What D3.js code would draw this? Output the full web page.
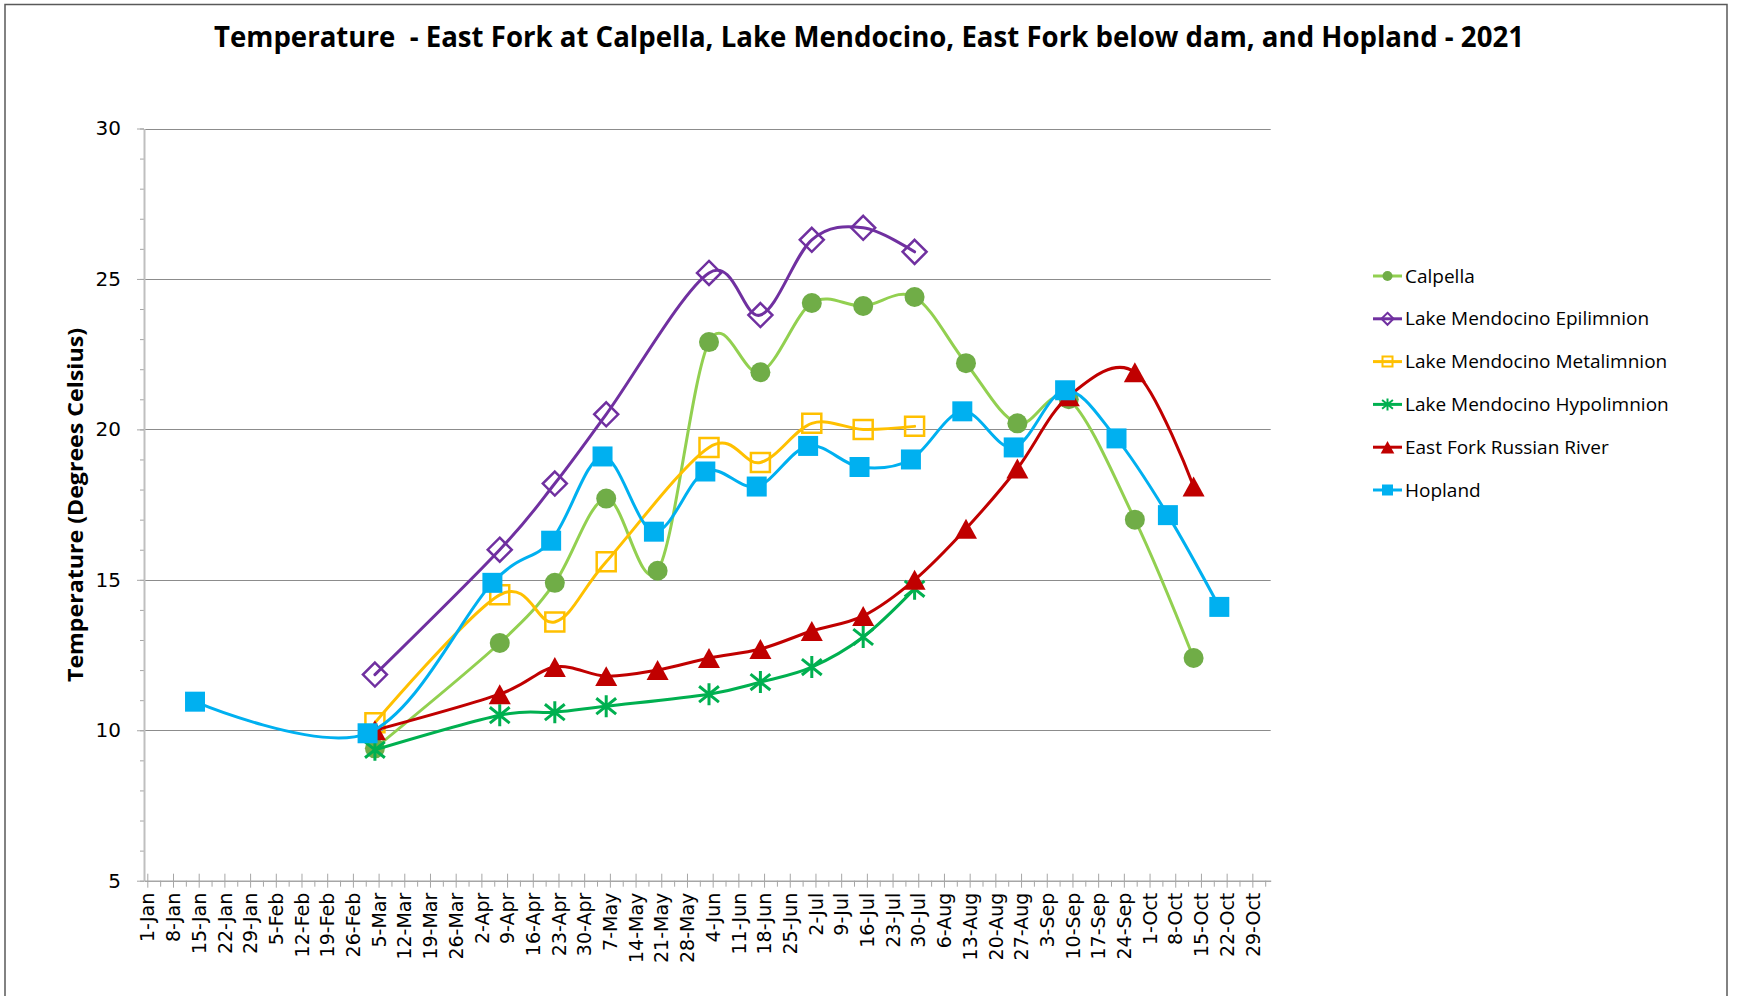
<!DOCTYPE html>
<html>
<head>
<meta charset="utf-8">
<script src="https://cdn.jsdelivr.net/npm/d3@7"></script>
<style>
  body { margin: 0; background: #fff; }
  svg { display: block; }
</style>
</head>
<body>
<div id="chart"></div>
<script>
// ---- data (deg C) ----
var riverDates = ["2021-03-04", "2021-04-07", "2021-04-22", "2021-05-06", "2021-05-20", "2021-06-03",
  "2021-06-17", "2021-07-01", "2021-07-15", "2021-07-29", "2021-08-12", "2021-08-26",
  "2021-09-09", "2021-09-27", "2021-10-13"];
var calpellaTemps = [9.4, 12.9, 14.9, 17.7, 15.3, 22.9, 21.9, 24.2, 24.1, 24.4, 22.2, 20.2, 21.0, 17.0, 12.4];
var eastForkTemps = [10.0, 11.2, 12.1, 11.8, 12.0, 12.4, 12.7, 13.3, 13.8, 15.0, 16.7, 18.7, 21.1, 21.9, 18.1];

var lakeDates = ["2021-03-04", "2021-04-07", "2021-04-22", "2021-05-06", "2021-06-03",
  "2021-06-17", "2021-07-01", "2021-07-15", "2021-07-29"];
var epiTemps = [11.85, 16.0, 18.2, 20.5, 25.2, 23.8, 26.3, 26.7, 25.9];
var metaTemps = [10.25, 14.5, 13.6, 15.6, 19.4, 18.9, 20.2, 20.0, 20.1];
var hypoTemps = [9.35, 10.5, 10.6, 10.8, 11.2, 11.6, 12.1, 13.1, 14.7];

var hoplandDates = ["2021-01-14", "2021-03-02", "2021-04-05", "2021-04-21", "2021-05-05", "2021-05-19",
  "2021-06-02", "2021-06-16", "2021-06-30", "2021-07-14", "2021-07-28", "2021-08-11",
  "2021-08-25", "2021-09-08", "2021-09-22", "2021-10-06", "2021-10-20"];
var hoplandTemps = [10.95, 9.9, 14.9, 16.3, 19.1, 16.6, 18.6, 18.1, 19.45, 18.75, 19.0, 20.6, 19.4, 21.3, 19.7, 17.15, 14.1];

var yTicks = [5, 10, 15, 20, 25, 30];

var svgWidth = 1737;
var svgHeight = 996;

var plot = { left: 144, right: 1270.7, top: 128.5, bottom: 880.7 };

var parseDate = d3.utcParse("%Y-%m-%d");
var DAY = 864e5;
var jan1 = Date.UTC(2021, 0, 1);

function pair(dates, temps) {
  return dates.map(function(d, i) { return { date: parseDate(d), value: temps[i] }; });
}

var series = [
  { name: "Calpella", data: pair(riverDates, calpellaTemps), line: "#92D050", mark: "#70AD47", shape: "circle" },
  { name: "Lake Mendocino Epilimnion", data: pair(lakeDates, epiTemps), line: "#7030A0", mark: "#7030A0", shape: "diamond" },
  { name: "Lake Mendocino Metalimnion", data: pair(lakeDates, metaTemps), line: "#FFC000", mark: "#FFC000", shape: "openSquare" },
  { name: "Lake Mendocino Hypolimnion", data: pair(lakeDates, hypoTemps), line: "#00B050", mark: "#00B050", shape: "star" },
  { name: "East Fork Russian River", data: pair(riverDates, eastForkTemps), line: "#C00000", mark: "#C00000", shape: "triangle" },
  { name: "Hopland", data: pair(hoplandDates, hoplandTemps), line: "#00B0F0", mark: "#00B0F0", shape: "square" }
];

var svg = d3.select("#chart")
  .append("svg")
  .attr("width", svgWidth)
  .attr("height", svgHeight)
  .style("font-family", "'DejaVu Sans', sans-serif");

// chart border
svg.append("rect")
  .attr("x", 5)
  .attr("y", 4.5)
  .attr("width", 1722)
  .attr("height", 1100)
  .attr("fill", "none")
  .attr("stroke", "#595959")
  .attr("stroke-width", 1.5);

// scales
var x = d3.scaleUtc()
  .domain([new Date(jan1 - 0.9 * DAY), new Date(jan1 + 306 * DAY)])
  .range([plot.left, plot.right]);

var y = d3.scaleLinear()
  .domain([5, 30])
  .range([plot.bottom, plot.top]);

// gridlines
svg.append("g")
  .selectAll("line")
  .data(yTicks.filter(function(t) { return t > 5; }))
  .enter()
  .append("line")
  .attr("x1", plot.left)
  .attr("x2", plot.right)
  .attr("y1", function(d) { return Math.round(y(d)) + 0.5; })
  .attr("y2", function(d) { return Math.round(y(d)) + 0.5; })
  .attr("stroke", "#8c8c8c")
  .attr("stroke-width", 1);

// y axis: minor ticks every degree, major every 5
var yMinor = svg.append("g")
  .attr("transform", `translate(${plot.left}, 0)`)
  .call(d3.axisLeft(y).tickValues(d3.range(5, 31)).tickSize(4).tickFormat(""));
yMinor.select(".domain").remove();
yMinor.selectAll("line").attr("stroke", "#a6a6a6");

var yAxis = svg.append("g")
  .attr("transform", `translate(${plot.left}, 0)`)
  .call(d3.axisLeft(y).tickValues(yTicks).tickSize(7).tickPadding(16).tickSizeOuter(0));
yAxis.select(".domain").attr("stroke", "#bfbfbf").attr("stroke-width", 2);
yAxis.selectAll("line").attr("stroke", "#a6a6a6");
yAxis.selectAll("text")
  .attr("font-size", 20)
  .attr("font-family", "'DejaVu Sans', sans-serif")
  .attr("fill", "#000");

// x axis: weekly labels, minor ticks half way between
var weekTicks = d3.utcDay.range(new Date(jan1), new Date(jan1 + 302 * DAY), 7);
var midTicks = weekTicks.map(function(d) { return new Date(+d + 3.5 * DAY); });

var xMinor = svg.append("g")
  .attr("transform", `translate(0, ${plot.bottom})`)
  .call(d3.axisBottom(x).tickValues(midTicks).tickSize(6).tickFormat(""));
xMinor.select(".domain").remove();
xMinor.selectAll("line").attr("stroke", "#a6a6a6");

var xAxis = svg.append("g")
  .attr("transform", `translate(0, ${plot.bottom})`)
  .call(d3.axisBottom(x).tickValues(weekTicks).tickSize(7).tickSizeOuter(0)
    .tickFormat(d3.utcFormat("%-d-%b")));
xAxis.select(".domain").attr("stroke", "#a6a6a6").attr("stroke-width", 1.5);
xAxis.selectAll("line")
  .attr("y1", -7)
  .attr("stroke", "#a6a6a6");
xAxis.selectAll("text")
  .attr("transform", "rotate(-90)")
  .attr("text-anchor", "end")
  .attr("x", -12)
  .attr("y", 0)
  .attr("dy", "0.35em")
  .attr("font-size", 19)
  .attr("font-family", "'DejaVu Sans', sans-serif")
  .attr("fill", "#000");

// marker shapes
function markerPath(shape, s) {
  var h = s / 2;
  if (shape === "square" || shape === "openSquare") {
    return `M${-h},${-h}h${s}v${s}h${-s}Z`;
  }
  if (shape === "diamond") {
    return `M0,${-h}L${h},0L0,${h}L${-h},0Z`;
  }
  if (shape === "triangle") {
    return `M0,${-h * 0.95}L${h * 1.05},${h * 0.95}L${-h * 1.05},${h * 0.95}Z`;
  }
  if (shape === "star") {
    var r = h, k = h * 0.9;
    return `M0,${-r}V${r}M${-k},${-k * 0.8}L${k},${k * 0.8}M${-k},${k * 0.8}L${k},${-k * 0.8}`;
  }
  return "";
}

function drawMarker(g, s, shape, color, size) {
  if (shape === "circle") {
    g.append("circle").attr("r", size / 2).attr("fill", color);
  } else if (shape === "square" || shape === "triangle") {
    g.append("path").attr("d", markerPath(shape, size)).attr("fill", color);
  } else if (shape === "star") {
    g.append("path").attr("d", markerPath(shape, size))
      .attr("fill", "none").attr("stroke", color).attr("stroke-width", s);
  } else {
    g.append("path").attr("d", markerPath(shape, size))
      .attr("fill", "none").attr("stroke", color).attr("stroke-width", s);
  }
}

var markerSize = { circle: 20, diamond: 24, openSquare: 19, star: 22, triangle: 21, square: 20 };
var legendSize = { circle: 10, diamond: 12, openSquare: 10, star: 12, triangle: 13, square: 11 };

var line = d3.line()
  .x(function(d) { return x(d.date); })
  .y(function(d) { return y(d.value); })
  .curve(d3.curveCatmullRom.alpha(0));

// series: line then markers, in order
series.forEach(function(sr) {
  var g = svg.append("g");
  g.append("path")
    .datum(sr.data)
    .attr("d", line)
    .attr("fill", "none")
    .attr("stroke", sr.line)
    .attr("stroke-width", 3)
    .attr("stroke-linecap", "round");

  g.selectAll("g.pt")
    .data(sr.data)
    .enter()
    .append("g")
    .attr("class", "pt")
    .attr("transform", function(d) { return `translate(${x(d.date)}, ${y(d.value)})`; })
    .each(function() {
      drawMarker(d3.select(this), sr.shape === "star" ? 3 : 2.5, sr.shape, sr.mark, markerSize[sr.shape]);
    });
});

// legend
var legend = svg.append("g").attr("transform", "translate(1373, 276)");
series.forEach(function(sr, i) {
  var row = legend.append("g").attr("transform", `translate(0, ${i * 42.8})`);
  row.append("line")
    .attr("x1", 0).attr("x2", 29)
    .attr("stroke", sr.line)
    .attr("stroke-width", 3);
  drawMarker(row.append("g").attr("transform", "translate(14.5, 0)"), 2, sr.shape, sr.mark, legendSize[sr.shape]);
  row.append("text")
    .attr("x", 32)
    .attr("dy", "0.35em")
    .attr("font-family", "'Open Sans', sans-serif")
    .attr("font-size", 19)
    .attr("fill", "#000")
    .text(sr.name);
});

// title
svg.append("text")
  .attr("x", 869)
  .attr("y", 47)
  .attr("text-anchor", "middle")
  .attr("font-family", "'Open Sans', sans-serif")
  .attr("font-weight", "bold")
  .attr("font-size", 28)
  .attr("textLength", 1310)
  .attr("lengthAdjust", "spacingAndGlyphs")
  .attr("fill", "#000")
  .style("white-space", "pre")
  .text("Temperature  - East Fork at Calpella, Lake Mendocino, East Fork below dam, and Hopland - 2021");

// y axis title
svg.append("text")
  .attr("transform", "translate(83, 505) rotate(-90)")
  .attr("text-anchor", "middle")
  .attr("font-family", "'Open Sans', sans-serif")
  .attr("font-weight", "bold")
  .attr("font-size", 22)
  .attr("textLength", 354)
  .attr("lengthAdjust", "spacingAndGlyphs")
  .attr("fill", "#000")
  .text("Temperature (Degrees Celsius)");
</script>
</body>
</html>
